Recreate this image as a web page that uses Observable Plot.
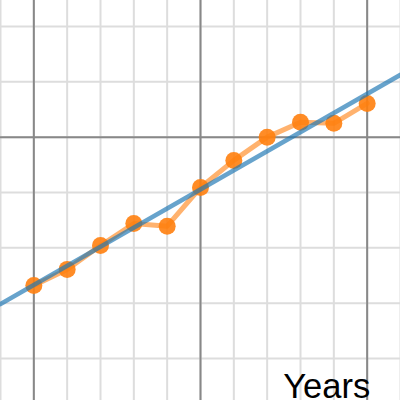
<!DOCTYPE html>
<html>
<head>
<meta charset="utf-8">
<script src="https://cdn.jsdelivr.net/npm/d3@7"></script>
<script src="https://cdn.jsdelivr.net/npm/@observablehq/plot@0.6"></script>
<style>
  html, body { margin: 0; padding: 0; background: #fff; }
  #chart svg { display: block; }
</style>
</head>
<body>
<div id="chart"></div>
<script>
// Data
const years = [0, 1, 2, 3, 4, 5, 6, 7, 8, 9, 10];
const values = [2.32, 2.61, 3.04, 3.44, 3.39, 4.09, 4.58, 5.0, 5.27, 5.25, 5.61];

// Grid ticks
const xMinorTicks = [-1, 0, 1, 2, 3, 4, 5, 6, 7, 8, 9, 10, 11];
const xMajorTicks = [0, 5, 10];
const yMinorTicks = [1, 2, 3, 4, 5, 6, 7];
const yMajorTicks = [5];
const xDomain = [-1, 11];
const yDomain = [0.24, 7.47];
const axisLabel = "Years";

const data = years.map((x, i) => ({x, y: values[i]}));

// Least-squares trend line extended across the frame
const mx = d3.mean(years), my = d3.mean(values);
const slope = d3.sum(years, (x, i) => (x - mx) * (values[i] - my)) / d3.sum(years, x => (x - mx) ** 2);
const intercept = my - slope * mx;
const trend = xDomain.map(x => ({x, y: intercept + slope * x}));

const chart = Plot.plot({
  width: 400,
  height: 400,
  margin: 0,
  x: {domain: xDomain, axis: null},
  y: {domain: yDomain, axis: null},
  marks: [
    Plot.ruleX(xMinorTicks, {stroke: "#dddddd", strokeWidth: 2}),
    Plot.ruleY(yMinorTicks, {stroke: "#dddddd", strokeWidth: 2}),
    Plot.ruleX(xMajorTicks, {stroke: "#888888", strokeWidth: 2}),
    Plot.ruleY(yMajorTicks, {stroke: "#888888", strokeWidth: 2}),
    Plot.line(data, {x: "x", y: "y", stroke: "#ff7f0e", strokeOpacity: 0.6, strokeWidth: 5}),
    Plot.dot(data, {x: "x", y: "y", r: 8.5, fill: "#ff7f0e", fillOpacity: 0.9, stroke: "none"}),
    Plot.line(trend, {x: "x", y: "y", stroke: "#1f77b4", strokeOpacity: 0.68, strokeWidth: 4.5}),
    Plot.text([axisLabel], {
      x: xMajorTicks[2], frameAnchor: "bottom", textAnchor: "end", lineAnchor: "bottom",
      dx: 3, dy: -3, fontSize: 34.5, fill: "#000",
      fontFamily: "Liberation Sans, Arial, Helvetica, sans-serif"
    })
  ]
});
document.getElementById("chart").appendChild(chart);
</script>
</body>
</html>
